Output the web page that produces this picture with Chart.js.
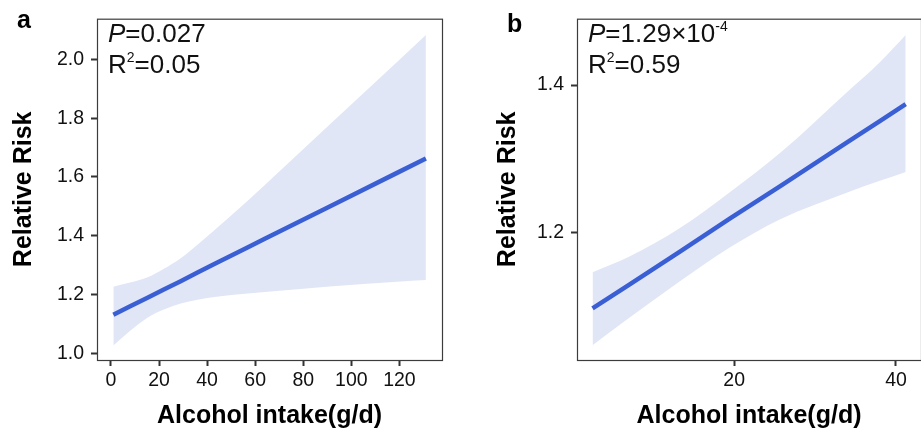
<!DOCTYPE html>
<html><head><meta charset="utf-8">
<script src="https://cdn.jsdelivr.net/npm/chart.js@4.4.0/dist/chart.umd.min.js"></script>
<style>
html,body{margin:0;padding:0;background:#fff;width:921px;height:433px;overflow:hidden;}
#wa{position:absolute;left:0;top:0;width:460px;height:433px;}
#wb{position:absolute;left:460px;top:0;width:461px;height:433px;}
</style></head><body>
<div id="wa"><canvas id="ca"></canvas></div>
<div id="wb"><canvas id="cb"></canvas></div>
<script>
// ---- Panel a data ----
const intakeA = [1, 8, 15, 22, 29, 36, 43, 57, 64, 91, 119, 131];
const rrA     = [1.132, 1.161, 1.189, 1.218, 1.246, 1.275, 1.304, 1.361, 1.390, 1.500, 1.614, 1.663];
const upperA  = [1.227, 1.241, 1.258, 1.288, 1.324, 1.370, 1.419, 1.520, 1.573, 1.778, 1.991, 2.083];
const lowerA  = [1.027, 1.077, 1.121, 1.150, 1.170, 1.183, 1.192, 1.204, 1.209, 1.228, 1.244, 1.250];
const xTicksA  = [0, 20, 40, 60, 80, 100, 120];
const xLabelsA = ['0', '20', '40', '60', '80', '100', '120'];
const yTicksA  = [1.0, 1.2, 1.4, 1.6, 1.8, 2.0];
const yLabelsA = ['1.0', '1.2', '1.4', '1.6', '1.8', '2.0'];

// ---- Panel b data ----
const intakeB = [2.5, 7, 13.3, 19.5, 25.7, 33.9, 38, 41.2];
const rrB     = [1.097, 1.129, 1.174, 1.219, 1.263, 1.322, 1.351, 1.374];
const upperB  = [1.146, 1.167, 1.206, 1.255, 1.308, 1.390, 1.431, 1.468];
const lowerB  = [1.047, 1.084, 1.134, 1.180, 1.218, 1.254, 1.270, 1.282];
const xTicksB  = [20, 40];
const xLabelsB = ['20', '40'];
const yTicksB  = [1.2, 1.4];
const yLabelsB = ['1.2', '1.4'];

const FONT = "'Liberation Sans', Arial, Helvetica, sans-serif";
const LINE_COLOR = '#3A5FD5';
const BAND_COLOR = '#E0E6F6';

function pts(xs, ys) { return xs.map((x, i) => ({ x: x, y: ys[i] })); }

function drawRich(ctx, x, y, parts) {
  let cx = x;
  for (const p of parts) {
    ctx.font = p.font;
    ctx.fillText(p.t, cx, y + (p.dy || 0));
    cx += ctx.measureText(p.t).width;
  }
}

function makeChart(id, cfg) {
  const boxPlugin = {
    id: 'box' + id,
    afterDraw(chart) {
      const ctx = chart.ctx, a = chart.chartArea;
      ctx.save();
      ctx.strokeStyle = '#3c3c3c';
      ctx.lineWidth = 1.2;
      ctx.strokeRect(a.left + 0.5, a.top + 0.5, a.right - a.left, a.bottom - a.top);
      ctx.fillStyle = '#000';
      ctx.textBaseline = 'alphabetic';
      ctx.textAlign = 'left';
      ctx.font = 'bold 25px ' + FONT;
      ctx.fillText(cfg.letter, cfg.letterX, cfg.letterY);
      ctx.fillStyle = '#111';
      drawRich(ctx, cfg.annX, 41.7, cfg.pParts);
      drawRich(ctx, cfg.annX, 72.7, cfg.rParts);
      ctx.restore();
    }
  };
  return new Chart(document.getElementById(id), {
    type: 'scatter',
    data: {
      datasets: [
        { data: pts(cfg.xs, cfg.rr), showLine: true, borderColor: LINE_COLOR, borderWidth: 4.5,
          pointRadius: 0, fill: false, tension: 0, borderCapStyle: 'butt' },
        { data: pts(cfg.xs, cfg.up), showLine: true, borderColor: 'rgba(0,0,0,0)', borderWidth: 1,
          pointRadius: 0, fill: false, cubicInterpolationMode: 'monotone' },
        { data: pts(cfg.xs, cfg.lo), showLine: true, borderColor: 'rgba(0,0,0,0)', borderWidth: 1,
          pointRadius: 0, fill: '-1', backgroundColor: BAND_COLOR, cubicInterpolationMode: 'monotone' }
      ]
    },
    options: {
      responsive: false, animation: false, devicePixelRatio: 1,
      layout: { padding: cfg.padding },
      plugins: { legend: { display: false }, tooltip: { enabled: false } },
      scales: {
        x: {
          type: 'linear', min: cfg.xMin, max: cfg.xMax,
          afterFit(s) { s.height = 73; },
          afterBuildTicks(s) { s.ticks = cfg.xTicks.map(v => ({ value: v })); },
          grid: { drawOnChartArea: false, drawTicks: true, tickLength: 6, tickWidth: 2, tickColor: '#333' },
          border: { display: false },
          ticks: { autoSkip: false, maxRotation: 0, padding: 3, color: '#111',
            font: { family: FONT, size: 19.5 },
            callback: (v) => { const i = cfg.xTicks.indexOf(v); return i >= 0 ? cfg.xLabels[i] : ''; } },
          title: { display: true, text: 'Alcohol intake(g/d)', color: '#000',
            font: { family: FONT, size: 25, weight: 'bold' }, padding: { top: 0, bottom: 2 } }
        },
        y: {
          type: 'linear', min: cfg.yMin, max: cfg.yMax,
          afterFit(s) { s.width = cfg.yWidth; },
          afterBuildTicks(s) { s.ticks = cfg.yTicks.map(v => ({ value: v })); },
          grid: { drawOnChartArea: false, drawTicks: true, tickLength: 6, tickWidth: 2, tickColor: '#333' },
          border: { display: false },
          ticks: { autoSkip: false, padding: 7, color: '#111',
            font: { family: FONT, size: 19.5 },
            callback: (v) => { const i = cfg.yTicks.indexOf(v); return i >= 0 ? cfg.yLabels[i] : ''; } },
          title: { display: true, text: 'Relative Risk', color: '#000',
            font: { family: FONT, size: 25, weight: 'bold' }, padding: { top: cfg.yTitlePad, bottom: 0 } }
        }
      }
    },
    plugins: [boxPlugin]
  });
}

const ca = document.getElementById('ca'); ca.width = 460; ca.height = 433;
const cb = document.getElementById('cb'); cb.width = 461; cb.height = 433;

const reg = '26px ' + FONT, ita = 'italic 26px ' + FONT, sup = '14px ' + FONT;

makeChart('ca', {
  xs: intakeA, rr: rrA, up: upperA, lo: lowerA,
  xTicks: xTicksA, xLabels: xLabelsA, yTicks: yTicksA, yLabels: yLabelsA,
  xMin: -5.8, xMax: 137.7, yMin: 0.978, yMax: 2.138,
  yWidth: 97, yTitlePad: 9,
  padding: { top: 7, right: 18, left: 0, bottom: 0 },
  letter: 'a', letterX: 17, letterY: 27.5, annX: 108,
  pParts: [{ t: 'P', font: ita }, { t: '=0.027', font: reg }],
  rParts: [{ t: 'R', font: reg }, { t: '2', font: sup, dy: -11 }, { t: '=0.05', font: reg }]
});

makeChart('cb', {
  xs: intakeB, rr: rrB, up: upperB, lo: lowerB,
  xTicks: xTicksB, xLabels: xLabelsB, yTicks: yTicksB, yLabels: yLabelsB,
  xMin: 0.58, xMax: 43.09, yMin: 1.027, yMax: 1.490,
  yWidth: 117, yTitlePad: 33,
  padding: { top: 7, right: 0, left: 0, bottom: 0 },
  letter: 'b', letterX: 47, letterY: 32, annX: 128,
  pParts: [{ t: 'P', font: ita }, { t: '=1.29\u00d710', font: reg }, { t: '-4', font: sup, dy: -11 }],
  rParts: [{ t: 'R', font: reg }, { t: '2', font: sup, dy: -11 }, { t: '=0.59', font: reg }]
});
</script>
</body></html>
